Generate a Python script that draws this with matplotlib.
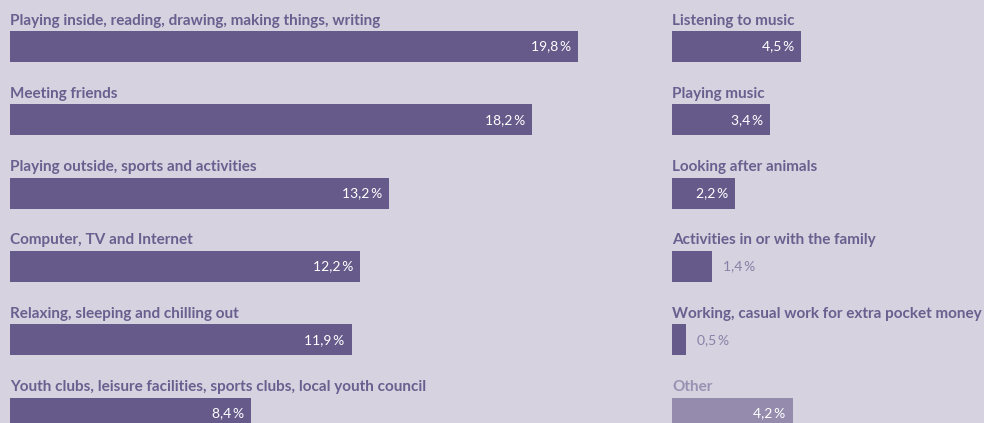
import matplotlib
matplotlib.use("Agg")
import matplotlib.pyplot as plt

# Leisure activities, share of answers in percent
left_labels = [
    "Playing inside, reading, drawing, making things, writing",
    "Meeting friends",
    "Playing outside, sports and activities",
    "Computer, TV and Internet",
    "Relaxing, sleeping and chilling out",
    "Youth clubs, leisure facilities, sports clubs, local youth council",
]
left_values = [19.8, 18.2, 13.2, 12.2, 11.9, 8.4]

right_labels = [
    "Listening to music",
    "Playing music",
    "Looking after animals",
    "Activities in or with the family",
    "Working, casual work for extra pocket money",
    "Other",
]
right_values = [4.5, 3.4, 2.2, 1.4, 0.5, 4.2]

BG = "#d6d2e0"
BAR = "#665a8b"
BAR_OTHER = "#958bad"
LABEL = "#6a5f8e"
LABEL_OTHER = "#9a90b1"
VALUE_OUT = "#8a80a6"

W, H, DPI = 984, 423, 100
PX_PER_PCT = 28.7      # horizontal scale shared by both columns
ROW = 73.3             # row pitch in pixels
BAR_H = 31 / ROW
FIRST_CENTER = 46.5    # pixels from top to first bar centre

plt.rcParams["font.family"] = ["Lato", "DejaVu Sans"]

fig = plt.figure(figsize=(W / DPI, H / DPI), dpi=DPI, facecolor=BG)


def fmt(v):
    return f"{v:.1f}".replace(".", ",") + "\u2009%"


def column(x0_px, x1_px, labels, values):
    ax = fig.add_axes([x0_px / W, 0, (x1_px - x0_px) / W, 1])
    ax.set_facecolor("none")
    ax.set_xlim(0, (x1_px - x0_px) / PX_PER_PCT)
    top = -FIRST_CENTER / ROW
    bottom = (H - FIRST_CENTER) / ROW
    ax.set_ylim(bottom, top)
    ax.axis("off")
    ypos = list(range(len(values)))
    colors = [BAR_OTHER if lab == "Other" else BAR for lab in labels]
    ax.barh(ypos, values, height=BAR_H, color=colors, align="center")
    for y, lab, v in zip(ypos, labels, values):
        ax.text(0, y - 22 / ROW, lab, ha="left", va="baseline",
                fontsize=10.95, fontweight="bold",
                color=LABEL_OTHER if lab == "Other" else LABEL)
        if v >= 2:
            ax.annotate(fmt(v), (v, y), xytext=(-5, 0), textcoords="offset points",
                        ha="right", va="center", fontsize=10,
                        fontweight="normal", color="white")
        else:
            ax.annotate(fmt(v), (v, y), xytext=(7.5, 0), textcoords="offset points",
                        ha="left", va="center", fontsize=10,
                        fontweight="normal", color=VALUE_OUT)
    return ax


column(10, 660, left_labels, left_values)
column(672, 984, right_labels, right_values)

fig.savefig("out.png", dpi=DPI, facecolor=BG)
